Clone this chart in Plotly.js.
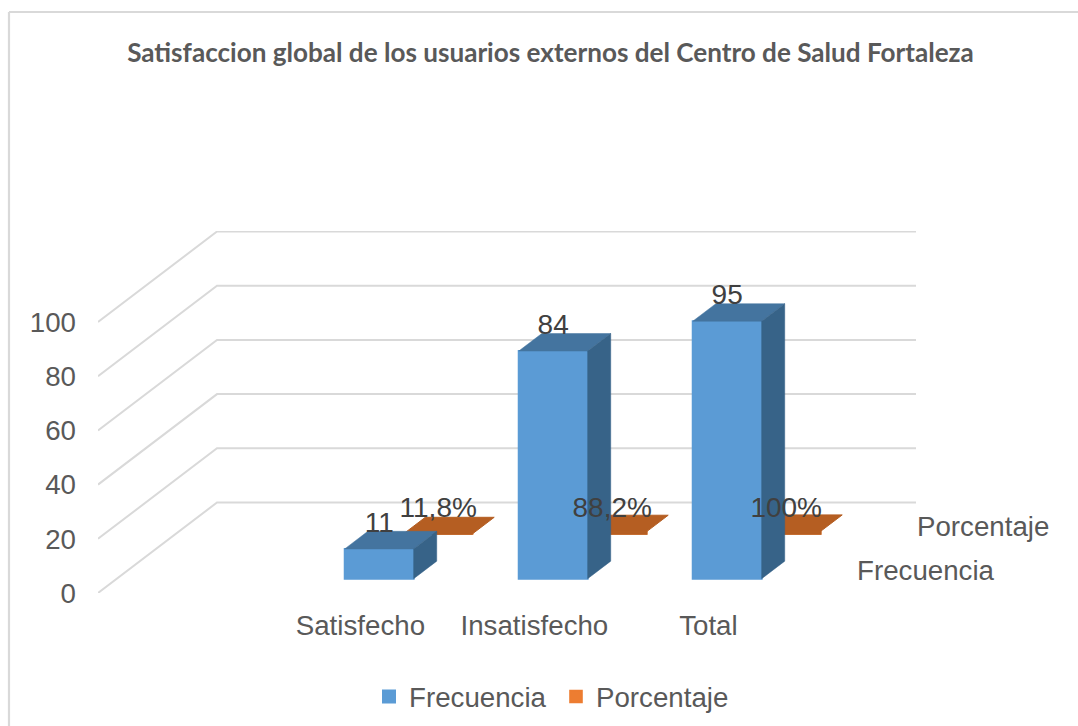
<!DOCTYPE html>
<html>
<head>
<meta charset="utf-8">
<script src="https://cdn.plot.ly/plotly-3.0.1.min.js"></script>
<style>html,body{margin:0;padding:0;background:#fff}#chart{width:1078px;height:726px}</style>
</head>
<body>
<div id="chart"></div>
<script>
// ---- data ----
var categories = ['Satisfecho', 'Insatisfecho', 'Total'];
var categoryPositions = [1, 2, 3];
var frecuencia = [11, 84, 95];
var frecuenciaLabels = ['11', '84', '95'];
var porcentaje = [0.118, 0.882, 1];
var porcentajeLabels = ['11,8%', '88,2%', '100%'];
var yTicks = [0, 20, 40, 60, 80, 100];
var titleText = 'Satisfaccion global de los usuarios externos del Centro de Salud Fortaleza';

// ---- oblique projection of the depth axis, in axis units ----
var W = 1078, H = 726;
var M = {l: 98, r: 162, t: 231, b: 133, autoexpand: false};
var pxPerX = 174, pxPerY = 2.71;
var plotW = W - M.l - M.r, plotH = H - M.t - M.b;
var xStart = -0.508;
var xRange = [xStart, xStart + plotW / pxPerX];
var yRange = [0, plotH / pxPerY];
var depthX = 119 / pxPerX, depthY = 90.5 / pxPerY;
var halfW = 0.198;
var rows = {freq: [0.158, 0.352], pct: [0.654, 0.835]};
var pctLift = -0.07;

function P(x, y, d) { return [x + d * depthX, y + d * depthY]; }
function poly(pts) {
  var xs = [], ys = [];
  pts.forEach(function (p) { xs.push(p[0]); ys.push(p[1]); });
  xs.push(pts[0][0]); ys.push(pts[0][1]);
  return {x: xs, y: ys};
}
function face(pts, color, z, lw) {
  var g = poly(pts);
  return {type: 'scatter', mode: 'lines', x: g.x, y: g.y, fill: 'toself', fillcolor: color,
    line: {color: color, width: lw || 0.5}, showlegend: false, hoverinfo: 'skip', zorder: z};
}

var traces = [];

// gridlines: front edge to back wall, then along the back wall
var gx = [], gy = [];
yTicks.forEach(function (v) {
  var a = P(xStart, v, 0), b = P(xStart, v, 1);
  gx.push(a[0], b[0], xRange[1], null);
  gy.push(a[1], b[1], b[1], null);
});
traces.push({type: 'scatter', mode: 'lines', x: gx, y: gy, line: {color: '#d9d9d9', width: 2},
  showlegend: false, hoverinfo: 'skip', zorder: -3});

// Frecuencia front faces as real bars, lifted onto their row
var baseF = rows.freq[0] * depthY;
traces.push({type: 'bar', name: 'Frecuencia',
  x: categoryPositions.map(function (c) { return P(c, 0, rows.freq[0])[0]; }),
  y: frecuencia, base: frecuencia.map(function () { return baseF; }), width: 2 * halfW,
  marker: {color: '#5b9bd5', line: {color: '#5b9bd5', width: 2}}, hoverinfo: 'skip', zorder: 0});

// Porcentaje front faces: barely any height, the legend colour
var baseP = rows.pct[0] * depthY + pctLift;
traces.push({type: 'bar', name: 'Porcentaje',
  x: categoryPositions.map(function (c) { return P(c, 0, rows.pct[0])[0]; }),
  y: porcentaje, base: porcentaje.map(function () { return baseP; }), width: 2 * halfW,
  marker: {color: '#ed7d31', line: {color: '#ed7d31', width: 1.6}}, hoverinfo: 'skip', zorder: -2});

// Porcentaje shaded faces, behind the blue bars
categoryPositions.forEach(function (c, i) {
  var v = porcentaje[i] + pctLift, f = rows.pct[0], k = rows.pct[1];
  traces.push(face([P(c - halfW, v, f), P(c + halfW, v, f), P(c + halfW, v, k), P(c - halfW, v, k)], '#b55e22', -1, 1));
  traces.push(face([P(c - halfW, pctLift, f), P(c + halfW, pctLift, f), P(c + halfW, v, f), P(c - halfW, v, f)], '#b55e22', -1, 1.6));
});

// Frecuencia top and side faces
categoryPositions.forEach(function (c, i) {
  var v = frecuencia[i], f = rows.freq[0], k = rows.freq[1];
  traces.push(face([P(c - halfW, v, f), P(c + halfW, v, f), P(c + halfW, v, k), P(c - halfW, v, k)], '#44749f', 1));
  traces.push(face([P(c + halfW, 0, f), P(c + halfW, v, f), P(c + halfW, v, k), P(c + halfW, 0, k)], '#376388', 1));
});

// data labels
var labelLift = 24 / pxPerY;
var labelFont = {family: 'Liberation Sans, Arial, sans-serif', size: 28, color: '#404040'};
traces.push({type: 'scatter', mode: 'text', cliponaxis: false, showlegend: false, hoverinfo: 'skip', zorder: 3,
  x: categoryPositions.map(function (c) { return P(c, 0, rows.freq[0])[0]; }),
  y: frecuencia.map(function (v) { return P(0, v + labelLift, rows.freq[0])[1]; }),
  text: frecuenciaLabels, textposition: 'middle center', textfont: labelFont});
traces.push({type: 'scatter', mode: 'text', cliponaxis: false, showlegend: false, hoverinfo: 'skip', zorder: 3,
  x: categoryPositions.map(function (c) { return P(c, 0, rows.pct[0])[0]; }),
  y: porcentaje.map(function () { return P(0, labelLift, rows.pct[0])[1]; }),
  text: porcentajeLabels, textposition: 'middle center', textfont: labelFont});

function fx(px) { return (px - M.l) / plotW; }
function fy(py) { return (H - M.b - py) / plotH; }
var sans = 'Liberation Sans, Arial, sans-serif';
var textSize = 27.7;

var layout = {
  width: W, height: H, margin: M, paper_bgcolor: '#fff', plot_bgcolor: 'rgba(0,0,0,0)',
  barmode: 'overlay', showlegend: true, font: {family: sans, size: textSize, color: '#595959'},
  title: {text: titleText, x: 550.5 / W, xanchor: 'center', xref: 'container',
    y: 1 - 53 / H, yanchor: 'middle', yref: 'container',
    font: {family: 'Lato, sans-serif', size: 26.1, weight: 700, color: '#595959'}},
  xaxis: {range: xRange, tickmode: 'array', tickvals: categoryPositions, ticktext: categories,
    showgrid: false, zeroline: false, showline: false, ticks: '', ticklabelstandoff: 13,
    tickfont: {family: sans, size: textSize, color: '#595959'}, fixedrange: true},
  yaxis: {range: yRange, tickmode: 'array', tickvals: yTicks, ticktext: yTicks.map(String),
    showgrid: false, zeroline: false, showline: false, ticks: '', ticklabelstandoff: 21,
    tickfont: {family: sans, size: textSize, color: '#595959'}, fixedrange: true},
  legend: {orientation: 'h', x: fx(556), xanchor: 'center', y: fy(697), yanchor: 'middle',
    font: {family: sans, size: textSize, color: '#595959'}, traceorder: 'normal',
    entrywidth: 142, entrywidthmode: 'pixels',
    itemclick: false, itemdoubleclick: false, bgcolor: 'rgba(0,0,0,0)'},
  annotations: [
    {text: 'Porcentaje', xref: 'paper', yref: 'paper', x: fx(983), y: fy(526), showarrow: false,
      xanchor: 'center', yanchor: 'middle', font: {family: sans, size: textSize, color: '#595959'}},
    {text: 'Frecuencia', xref: 'paper', yref: 'paper', x: fx(926), y: fy(570), showarrow: false,
      xanchor: 'center', yanchor: 'middle', font: {family: sans, size: textSize, color: '#595959'}}
  ],
  shapes: [
    {type: 'line', xref: 'paper', yref: 'paper', x0: fx(9), x1: fx(W), y0: fy(12), y1: fy(12), line: {color: '#d9d9d9', width: 2.2}},
    {type: 'line', xref: 'paper', yref: 'paper', x0: fx(9), x1: fx(9), y0: fy(12), y1: fy(H), line: {color: '#d9d9d9', width: 2.2}}
  ]
};
Plotly.newPlot('chart', traces, layout, {displayModeBar: false});
</script>
</body>
</html>
